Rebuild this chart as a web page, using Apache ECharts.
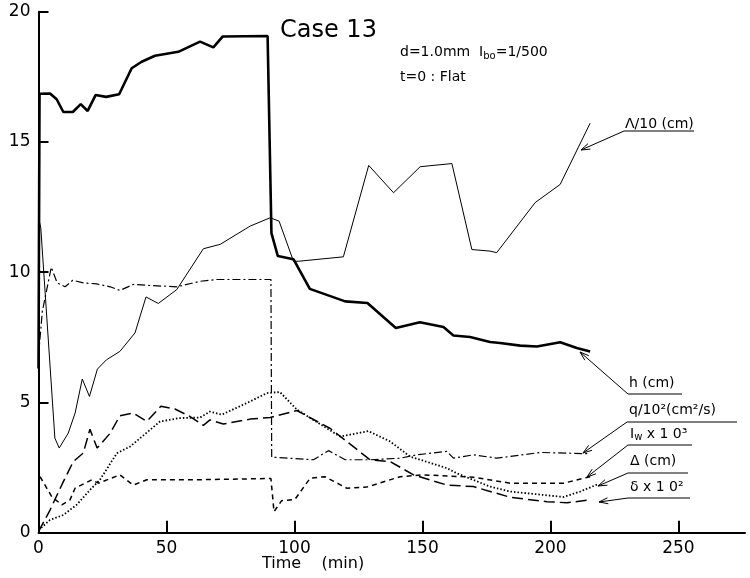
<!DOCTYPE html>
<html>
<head>
<meta charset="utf-8">
<script src="https://cdn.jsdelivr.net/npm/echarts@6/dist/echarts.min.js"></script>
<style>
html, body { margin: 0; background: #fff; }
#chart { width: 750px; height: 578px; }
</style>
</head>
<body>
<div id="chart"></div>
<script>
// 曲线数据：[时间 (min), 值]
var hData = [[0,6.3],[0.4,16.85],[4.5,16.86],[7.1,16.64],[9.7,16.15],[13.4,16.15],[16.5,16.45],[19.2,16.19],[22.3,16.8],[26.4,16.73],[31.5,16.83],[36.4,17.83],[40.3,18.08],[45.5,18.31],[54.6,18.46],[63.1,18.85],[68.3,18.63],[72,19.05],[89.5,19.07],[91,11.5],[93.5,10.62],[99.6,10.5],[106,9.36],[119.8,8.88],[128.5,8.82],[139.6,7.86],[149,8.08],[158.2,7.9],[162.1,7.57],[168.6,7.51],[176.4,7.32],[180.3,7.28],[188.2,7.18],[194.7,7.15],[203.8,7.31],[210.3,7.09],[215.5,6.96]];
var lambdaData = [[0,12.1],[0.9,11.7],[6.4,3.63],[8.1,3.25],[11.6,3.82],[14.3,4.59],[17.1,5.9],[19.9,5.23],[23,6.28],[26.6,6.64],[31.8,6.96],[37.7,7.67],[42,9.05],[46.8,8.8],[54,9.33],[64.4,10.9],[71,11.07],[82.7,11.77],[90.5,12.09],[94,11.96],[99.6,10.42],[101.5,10.42],[119.1,10.59],[129,14.1],[138.7,13.05],[149.1,14.05],[161.5,14.17],[169.3,10.87],[176.4,10.81],[179,10.75],[194,12.67],[203.8,13.37],[215.5,15.72]];
var qData = [[0,6.8],[1.5,8.5],[5,10.19],[7.3,9.59],[10.4,9.44],[13.4,9.69],[17.5,9.59],[22.7,9.55],[28,9.44],[31.8,9.3],[37,9.53],[43.6,9.49],[54,9.44],[63.1,9.65],[69.6,9.72],[90.8,9.72],[91.1,2.9],[107.4,2.8],[113.3,3.15],[119.8,2.8],[129.5,2.8],[141.3,2.86],[147.8,2.99],[159.5,3.12],[162.1,2.86],[169.9,2.99],[179,2.86],[196,3.08],[215.5,3.03]];
var iwData = [[0.6,2.15],[5.2,1.38],[9.1,1.07],[12.3,1.26],[14.3,1.71],[20.8,2.03],[23.4,1.9],[31.8,2.22],[37,1.83],[42.3,2.03],[60,2.03],[90.8,2.08],[92,0.81],[95,1.23],[100.2,1.28],[106.1,2.09],[111.9,2.15],[120.4,1.71],[128.2,1.75],[141.3,2.15],[150.4,2.22],[169.9,2.13],[184.3,1.9],[205.1,1.9],[215.5,2.15]];
var deltaData = [[0,0.1],[4.5,0.49],[9.7,0.68],[14.9,1.07],[20.1,1.64],[24,2.03],[30.6,3.05],[35.8,3.31],[43.6,3.95],[47.5,4.27],[55.1,4.4],[63.1,4.42],[67,4.65],[71.6,4.53],[82.7,5.04],[89.2,5.36],[94.3,5.4],[100.9,4.73],[117.8,3.69],[128.9,3.9],[137.4,3.5],[145.2,2.92],[159.5,2.48],[163.4,2.28],[176.4,1.77],[184.3,1.58],[205.1,1.37],[211.6,1.58],[218.8,1.87]];
var smallDeltaData = [[0,0.04],[4.5,0.87],[9.7,1.96],[13.6,2.73],[17.5,3.06],[20.1,3.97],[22.9,3.25],[28,3.82],[31.8,4.49],[37,4.59],[42.3,4.27],[47.8,4.85],[53.3,4.75],[59.2,4.46],[64.4,4.12],[67,4.33],[72.2,4.17],[82.7,4.36],[90.5,4.42],[100.9,4.69],[114,4.0],[129.5,2.8],[137.4,2.73],[146.5,2.22],[159.5,1.83],[169.9,1.77],[184.3,1.36],[198.6,1.19],[206.4,1.15],[215.5,1.26]];

// 刻度
var xTicks = [0, 50, 100, 150, 200, 250];
var yTicks = [0, 5, 10, 15, 20];

var FONT = 'DejaVu Sans';

// 图例标注（文字 + 下划线 + 箭头），单位为像素
var notes = [
    { text: 'Λ/10 (cm)', x: 625, y: 117, ux1: 624, ux2: 694, uy: 131, ax: 581, ay: 150 },
    { text: 'h (cm)', x: 629, y: 376, ux1: 628, ux2: 682, uy: 394, ax: 580, ay: 352 },
    { text: 'q/10²(cm²/s)', x: 629, y: 403, ux1: 627, ux2: 737, uy: 422, ax: 583, ay: 453 },
    { text: 'I{s|w} x 1 0³', x: 630, y: 427, ux1: 628, ux2: 692, uy: 445, ax: 587, ay: 477 },
    { text: 'Δ (cm)', x: 630, y: 454, ux1: 628, ux2: 688, uy: 473, ax: 598, ay: 486 },
    { text: 'δ x 1 0²', x: 630, y: 480, ux1: 628, ux2: 690, uy: 498, ax: 599, ay: 502 }
];

function arrowHead(x1, y1, x2, y2) {
    var ang = Math.atan2(y2 - y1, x2 - x1);
    var L = 9, W = 3;
    var bx = x2 - L * Math.cos(ang), by = y2 - L * Math.sin(ang);
    var px = -Math.sin(ang) * W, py = Math.cos(ang) * W;
    return {
        type: 'polyline',
        shape: { points: [[bx + px, by + py], [x2, y2], [bx - px, by - py]] },
        style: { stroke: '#000', lineWidth: 1, fill: null }
    };
}

function buildGraphic() {
    var g = [
        { type: 'text', left: 280, top: 19, style: { text: 'Case 13', font: '24px ' + FONT, fill: '#000' } },
        { type: 'text', left: 400, top: 45, style: {
            text: 'd=1.0mm  I{s|bo}=1/500', font: '14px ' + FONT, fill: '#000',
            rich: { s: { fontSize: 10, fontFamily: FONT, padding: [9, 0, 0, 0] } } } },
        { type: 'text', left: 400, top: 70, style: { text: 't=0 : Flat', font: '14px ' + FONT, fill: '#000' } },
        { type: 'text', left: 262, top: 556, style: { text: 'Time    (min)', font: '16px ' + FONT, fill: '#000' } }
    ];
    notes.forEach(function (n) {
        g.push({ type: 'text', left: n.x, top: n.y, style: {
            text: n.text, font: '14px ' + FONT, fill: '#000',
            rich: { s: { fontSize: 10, fontFamily: FONT, padding: [6, 0, 0, 0] } } } });
        g.push({ type: 'line', shape: { x1: n.ux1, y1: n.uy, x2: n.ux2, y2: n.uy }, style: { stroke: '#000', lineWidth: 1 } });
        g.push({ type: 'line', shape: { x1: n.ux1, y1: n.uy, x2: n.ax, y2: n.ay }, style: { stroke: '#000', lineWidth: 1 } });
        g.push(arrowHead(n.ux1, n.uy, n.ax, n.ay));
    });
    return g;
}

function makeSeries(name, data, width, dash) {
    return {
        name: name,
        type: 'line',
        data: data,
        symbol: 'none',
        lineStyle: { color: '#000', width: width, type: dash },
        emphasis: { disabled: true }
    };
}

var chart = echarts.init(document.getElementById('chart'));

var option = {
    animation: false,
    backgroundColor: '#fff',
    grid: { left: 38.5, right: 5, top: 11.7, bottom: 45.3 },
    xAxis: {
        type: 'value',
        min: 0,
        max: 276,
        axisLine: { show: true, onZero: false, lineStyle: { color: '#000', width: 2 } },
        axisTick: { show: true, inside: true, length: 12, customValues: xTicks, lineStyle: { color: '#000', width: 2 } },
        axisLabel: { customValues: xTicks, color: '#000', fontSize: 17, fontFamily: FONT, margin: 7 },
        splitLine: { show: false }
    },
    yAxis: {
        type: 'value',
        min: 0,
        max: 20,
        axisLine: { show: true, onZero: false, lineStyle: { color: '#000', width: 2 } },
        axisTick: { show: true, inside: true, length: 10, customValues: yTicks, lineStyle: { color: '#000', width: 2 } },
        axisLabel: { customValues: yTicks, color: '#000', fontSize: 17, fontFamily: FONT, margin: 8 },
        splitLine: { show: false }
    },
    series: [
        makeSeries('Λ/10', lambdaData, 1, 'solid'),
        makeSeries('q/10²', qData, 1.2, [8, 3, 2, 3]),
        makeSeries('Iw', iwData, 1.5, [5, 4]),
        makeSeries('Δ', deltaData, 1.8, [1.5, 2]),
        makeSeries('δ', smallDeltaData, 1.5, [11, 5]),
        makeSeries('h', hData, 2.6, 'solid')
    ],
    graphic: buildGraphic()
};

chart.setOption(option);
</script>
</body>
</html>
